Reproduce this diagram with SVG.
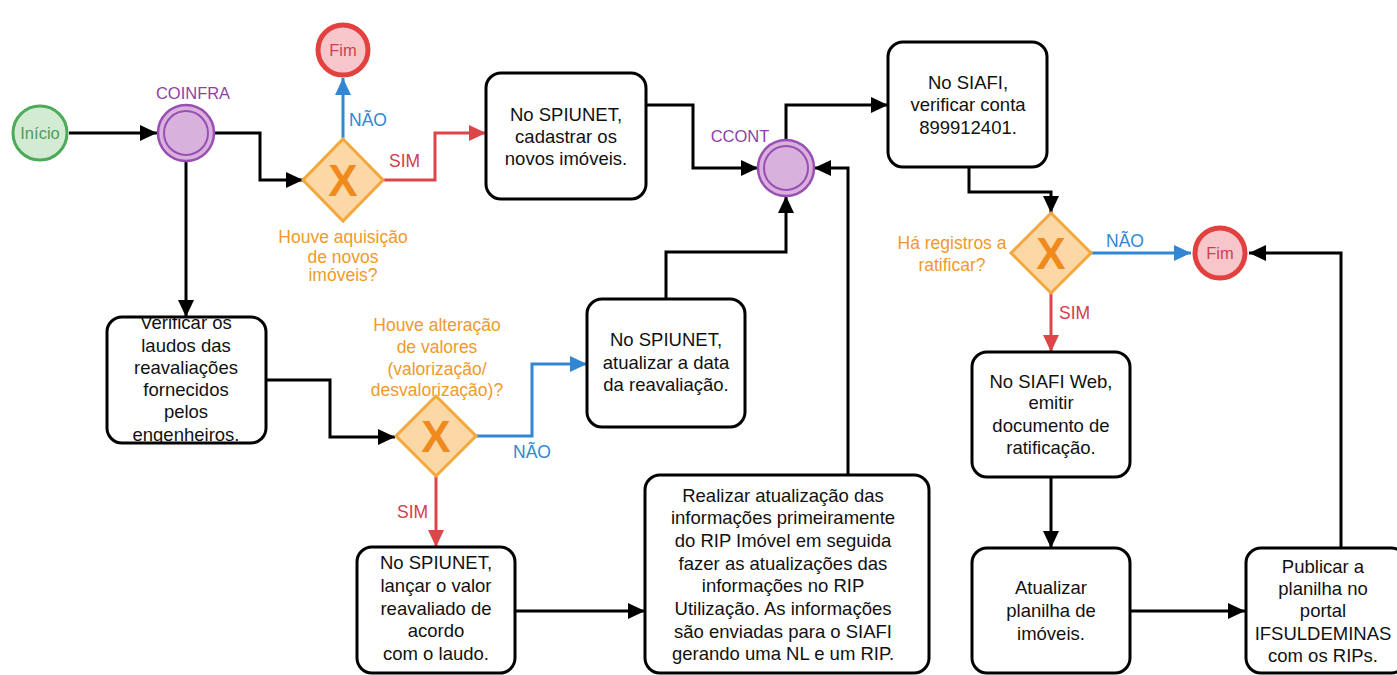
<svg xmlns="http://www.w3.org/2000/svg" width="1397" height="675" viewBox="0 0 1397 675">
  <style>
    text { font-family: "Liberation Sans", Arial, sans-serif; }
    .box { fill: #ffffff; stroke: #000000; stroke-width: 3; }
    .txt { font-size: 18.5px; fill: #111111; text-anchor: middle; }
    .edge { fill: none; stroke: #000000; stroke-width: 3; }
    .edge.no { stroke: #3187d4; }
    .edge.yes { stroke: #de4548; }
    .lbl-no { font-size: 17.5px; fill: #3187d4; }
    .lbl-yes { font-size: 17.5px; fill: #d2404a; }
    .gw { fill: #fcd8a6; stroke: #f4a73c; stroke-width: 3; }
    .gwx { font-size: 44px; font-weight: bold; fill: #f08a1d; text-anchor: middle; }
    .gwlbl { font-size: 17.5px; fill: #f09a2a; text-anchor: middle; }
    .role { fill: #d8b2dc; stroke: #9a4eb4; stroke-width: 2.5; }
    .rolelbl { font-size: 16.5px; fill: #8e3fa8; text-anchor: middle; }
    .end { fill: #f7c6cb; stroke: #e2413f; stroke-width: 5; }
    .endlbl { font-size: 16.5px; fill: #cf3f4c; text-anchor: middle; }
  </style>
  <defs>
    <marker id="arr" markerUnits="userSpaceOnUse" markerWidth="18" markerHeight="16" refX="17" refY="8" orient="auto">
      <path d="M0,0 L17,8 L0,16 Z" fill="#000000"/>
    </marker>
    <marker id="arrNo" markerUnits="userSpaceOnUse" markerWidth="18" markerHeight="16" refX="17" refY="8" orient="auto">
      <path d="M0,0 L17,8 L0,16 Z" fill="#3187d4"/>
    </marker>
    <marker id="arrYes" markerUnits="userSpaceOnUse" markerWidth="18" markerHeight="16" refX="17" refY="8" orient="auto">
      <path d="M0,0 L17,8 L0,16 Z" fill="#de4548"/>
    </marker>
    <clipPath id="clipVerificar">
      <rect x="107" y="317" width="159" height="126" rx="15"/>
    </clipPath>
  </defs>

  <rect width="1397" height="675" fill="#ffffff"/>

  <!-- connectors -->
  <g id="connectors">
    <path class="edge" d="M69,133 H157" marker-end="url(#arr)"/>
    <path class="edge" d="M215,133 H260 V180 H303" marker-end="url(#arr)"/>
    <path class="edge" d="M186,161 V317" marker-end="url(#arr)"/>
    <path class="edge no" d="M343,138 V78" marker-end="url(#arrNo)"/>
    <path class="edge yes" d="M383,180 H435 V133 H486" marker-end="url(#arrYes)"/>
    <path class="edge" d="M646,105 H693 V168 H758" marker-end="url(#arr)"/>
    <path class="edge" d="M786,140 V105 H888" marker-end="url(#arr)"/>
    <path class="edge" d="M969,167 V192 H1051 V213" marker-end="url(#arr)"/>
    <path class="edge no" d="M1091,253 H1191" marker-end="url(#arrNo)"/>
    <path class="edge yes" d="M1051,293 V352" marker-end="url(#arrYes)"/>
    <path class="edge" d="M1051,477 V548" marker-end="url(#arr)"/>
    <path class="edge" d="M1130,611 H1245" marker-end="url(#arr)"/>
    <path class="edge" d="M1341,548 V253 H1249" marker-end="url(#arr)"/>
    <path class="edge" d="M266,380 H330 V437 H395" marker-end="url(#arr)"/>
    <path class="edge no" d="M476,436 H532 V364 H587" marker-end="url(#arrNo)"/>
    <path class="edge yes" d="M436,476 V547" marker-end="url(#arrYes)"/>
    <path class="edge" d="M515,611 H645" marker-end="url(#arr)"/>
    <path class="edge" d="M666,299 V252 H786 V196" marker-end="url(#arr)"/>
    <path class="edge" d="M848,475 V168 H814" marker-end="url(#arr)"/>

    <text class="lbl-no" x="349" y="126">NÃO</text>
    <text class="lbl-yes" x="389" y="167">SIM</text>
    <text class="lbl-no" x="1106" y="247">NÃO</text>
    <text class="lbl-yes" x="1059" y="319">SIM</text>
    <text class="lbl-no" x="513" y="458">NÃO</text>
    <text class="lbl-yes" x="397" y="518">SIM</text>
  </g>

  <!-- start -->
  <g id="inicio">
    <circle cx="40" cy="133" r="27" fill="#d3ebd3" stroke="#4caa58" stroke-width="3"/>
    <text x="40" y="139" font-size="16.5" fill="#4d9d57" text-anchor="middle">Início</text>
  </g>

  <!-- COINFRA -->
  <g id="coinfra">
    <circle class="role" cx="186" cy="133" r="28"/>
    <circle cx="186" cy="133" r="22" fill="none" stroke="#9a4eb4" stroke-width="2"/>
    <text class="rolelbl" x="193" y="99">COINFRA</text>
  </g>

  <!-- top end -->
  <g id="fim-topo">
    <circle class="end" cx="343" cy="50" r="25"/>
    <text class="endlbl" x="343" y="56">Fim</text>
  </g>

  <!-- gateway: aquisição -->
  <g id="gw-aquisicao">
    <path class="gw" d="M343,139 L383,180 L343,221 L303,180 Z"/>
    <text class="gwx" x="343" y="196">X</text>
    <text class="gwlbl" x="343" y="243">Houve aquisição</text>
    <text class="gwlbl" x="343" y="263">de novos</text>
    <text class="gwlbl" x="343" y="281">imóveis?</text>
  </g>

  <!-- cadastrar -->
  <g id="spiunet-cadastrar">
    <rect class="box" x="486" y="73" width="160" height="126" rx="15"/>
    <text class="txt" x="566" y="121">No SPIUNET,</text>
    <text class="txt" x="566" y="143">cadastrar os</text>
    <text class="txt" x="566" y="165">novos imóveis.</text>
  </g>

  <!-- CCONT -->
  <g id="ccont">
    <circle class="role" cx="786" cy="168" r="28"/>
    <circle cx="786" cy="168" r="22" fill="none" stroke="#9a4eb4" stroke-width="2"/>
    <text class="rolelbl" x="740" y="142">CCONT</text>
  </g>

  <!-- SIAFI conta -->
  <g id="siafi-conta">
    <rect class="box" x="888" y="42" width="159" height="125" rx="15"/>
    <text class="txt" x="968" y="89">No SIAFI,</text>
    <text class="txt" x="968" y="111">verificar conta</text>
    <text class="txt" x="968" y="134">899912401.</text>
  </g>

  <!-- gateway: ratificar -->
  <g id="gw-ratificar">
    <path class="gw" d="M1051,213 L1091,253 L1051,293 L1011,253 Z"/>
    <text class="gwx" x="1051" y="269">X</text>
    <text class="gwlbl" x="952" y="249">Há registros a</text>
    <text class="gwlbl" x="952" y="271">ratificar?</text>
  </g>

  <!-- right end -->
  <g id="fim-direita">
    <circle class="end" cx="1220" cy="253" r="25"/>
    <text class="endlbl" x="1220" y="259">Fim</text>
  </g>

  <!-- verificar laudos (text overflows and is clipped by the box) -->
  <g id="verificar-laudos">
    <rect x="107" y="317" width="159" height="126" rx="15" fill="#ffffff"/>
    <g clip-path="url(#clipVerificar)">
      <text class="txt" x="186" y="329">Verificar os</text>
      <text class="txt" x="186" y="352">laudos das</text>
      <text class="txt" x="186" y="374">reavaliações</text>
      <text class="txt" x="186" y="396">fornecidos</text>
      <text class="txt" x="186" y="418">pelos</text>
      <text class="txt" x="186" y="441">engenheiros.</text>
    </g>
    <rect x="107" y="317" width="159" height="126" rx="15" fill="none" stroke="#000000" stroke-width="3"/>
  </g>

  <!-- gateway: alteração -->
  <g id="gw-alteracao">
    <path class="gw" d="M436,396 L476,436 L436,476 L396,436 Z"/>
    <text class="gwx" x="436" y="452">X</text>
    <text class="gwlbl" x="437" y="331">Houve alteração</text>
    <text class="gwlbl" x="437" y="353">de valores</text>
    <text class="gwlbl" x="437" y="375">(valorização/</text>
    <text class="gwlbl" x="437" y="396">desvalorização)?</text>
  </g>

  <!-- atualizar data -->
  <g id="spiunet-data">
    <rect class="box" x="587" y="299" width="158" height="128" rx="15"/>
    <text class="txt" x="666" y="346">No SPIUNET,</text>
    <text class="txt" x="666" y="369">atualizar a data</text>
    <text class="txt" x="666" y="391">da reavaliação.</text>
  </g>

  <!-- lançar valor -->
  <g id="spiunet-lancar">
    <rect class="box" x="357" y="547" width="158" height="126" rx="15"/>
    <text class="txt" x="436" y="569">No SPIUNET,</text>
    <text class="txt" x="436" y="592">lançar o valor</text>
    <text class="txt" x="436" y="615">reavaliado de</text>
    <text class="txt" x="436" y="637">acordo</text>
    <text class="txt" x="436" y="660">com o laudo.</text>
  </g>

  <!-- atualizar RIP -->
  <g id="atualizar-rip">
    <rect class="box" x="645" y="475" width="284" height="198" rx="15"/>
    <text class="txt" x="783" y="502">Realizar atualização das</text>
    <text class="txt" x="783" y="524">informações primeiramente</text>
    <text class="txt" x="783" y="547">do RIP Imóvel em seguida</text>
    <text class="txt" x="783" y="570">fazer as atualizações das</text>
    <text class="txt" x="783" y="592">informações no RIP</text>
    <text class="txt" x="783" y="615">Utilização. As informações</text>
    <text class="txt" x="783" y="638">são enviadas para o SIAFI</text>
    <text class="txt" x="783" y="660">gerando uma NL e um RIP.</text>
  </g>

  <!-- SIAFI Web -->
  <g id="siafi-web">
    <rect class="box" x="972" y="352" width="158" height="125" rx="15"/>
    <text class="txt" x="1051" y="388">No SIAFI Web,</text>
    <text class="txt" x="1051" y="409">emitir</text>
    <text class="txt" x="1051" y="432">documento de</text>
    <text class="txt" x="1051" y="454">ratificação.</text>
  </g>

  <!-- planilha -->
  <g id="atualizar-planilha">
    <rect class="box" x="972" y="548" width="158" height="125" rx="15"/>
    <text class="txt" x="1051" y="594">Atualizar</text>
    <text class="txt" x="1051" y="617">planilha de</text>
    <text class="txt" x="1051" y="640">imóveis.</text>
  </g>

  <!-- publicar -->
  <g id="publicar">
    <rect class="box" x="1246" y="548" width="160" height="125" rx="15"/>
    <text class="txt" x="1323" y="573">Publicar a</text>
    <text class="txt" x="1323" y="595">planilha no</text>
    <text class="txt" x="1323" y="617">portal</text>
    <text class="txt" x="1323" y="640">IFSULDEMINAS</text>
    <text class="txt" x="1323" y="662">com os RIPs.</text>
  </g>
</svg>
